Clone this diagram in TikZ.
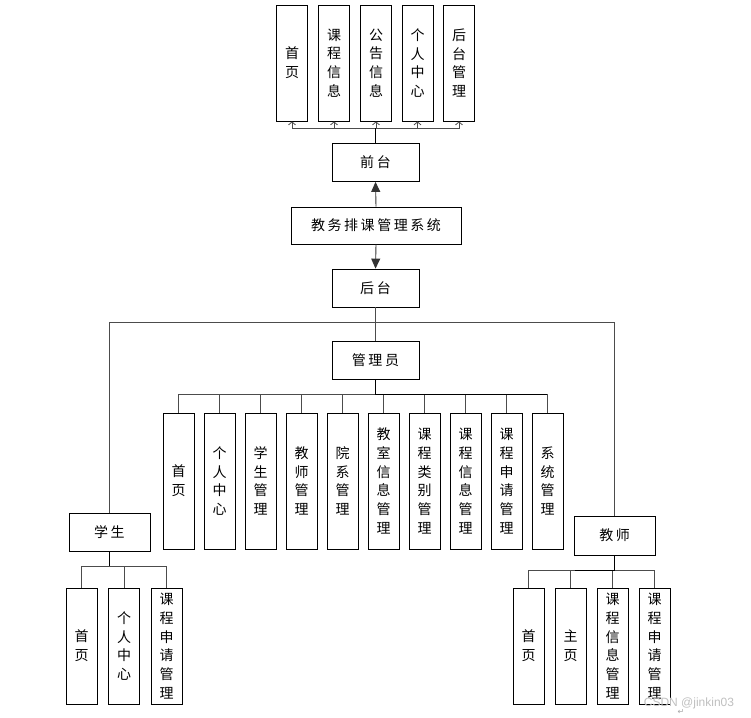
\documentclass[tikz,border=0pt]{standalone}
\usepackage{fontspec}
\newfontfamily\cjk[LetterSpace=18]{Noto Sans CJK SC}
\newfontfamily\wmfont{Liberation Sans}
\newfontfamily\symfont{DejaVu Sans}
\usetikzlibrary{arrows.meta}
\tikzset{
  box/.style={draw=black, line width=0.8pt, fill=white, inner sep=0pt, align=center,
    font=\cjk\fontsize{14}{18.7}\selectfont},
  vbox/.style={box, minimum width=31pt, minimum height=116pt},
  tallbox/.style={box, minimum width=31pt, minimum height=136pt},
  hbox/.style={box, minimum width=87pt, minimum height=38pt},
  conn/.style={draw=black!70, line width=0.9pt},
  stem/.style={draw=black, line width=1.6pt},
  barb/.style={conn, -{Straight Barb[length=3pt,width=7pt,line width=0.8pt]}},
  mainarrow/.style={draw=black!80, line width=0.9pt, -{Triangle[length=10pt,width=9pt]}},
}
\begin{document}
\begin{tikzpicture}[x=1pt,y=-1pt]
\useasboundingbox (0,0) rectangle (751,717);
% top row
\node[vbox] (t1) at (292,63) {首\\页};
\node[vbox] (t2) at (334,63) {课\\程\\信\\息};
\node[vbox] (t3) at (376,63) {公\\告\\信\\息};
\node[vbox] (t4) at (417.5,63) {个\\人\\中\\心};
\node[vbox] (t5) at (459,63) {后\\台\\管\\理};
% main chain
\node[hbox] (qt) at (375.5,162.5) {前台};
\node[box, minimum width=170pt, minimum height=37pt] (sys) at (376,225.5) {教务排课管理系统};
\node[hbox] (ht) at (375.5,288) {后台};
\node[hbox] (gly) at (375.5,360) {管理员};
\node[box, minimum width=81pt, minimum height=38pt] (xs) at (109.5,532) {学生};
\node[box, minimum width=81pt, minimum height=39pt] (js) at (614.5,535.5) {教师};
% admin row
\node[tallbox] (m1) at (178.5,481) {首\\页};
\node[tallbox] (m2) at (219.5,481) {个\\人\\中\\心};
\node[tallbox] (m3) at (260.5,481) {学\\生\\管\\理};
\node[tallbox] (m4) at (301.5,481) {教\\师\\管\\理};
\node[tallbox] (m5) at (342.5,481) {院\\系\\管\\理};
\node[tallbox] (m6) at (383.5,481) {教\\室\\信\\息\\管\\理};
\node[tallbox] (m7) at (424.5,481) {课\\程\\类\\别\\管\\理};
\node[tallbox] (m8) at (465.5,481) {课\\程\\信\\息\\管\\理};
\node[tallbox] (m9) at (506.5,481) {课\\程\\申\\请\\管\\理};
\node[tallbox] (m10) at (547.5,481) {系\\统\\管\\理};
% student row
\node[vbox] (s1) at (81.5,646) {首\\页};
\node[vbox] (s2) at (124,646) {个\\人\\中\\心};
\node[vbox] (s3) at (166.5,646) {课\\程\\申\\请\\管\\理};
% teacher row
\node[vbox] (j1) at (528.5,646) {首\\页};
\node[vbox] (j2) at (570.5,646) {主\\页};
\node[vbox] (j3) at (612.5,646) {课\\程\\信\\息\\管\\理};
\node[vbox] (j4) at (654.5,646) {课\\程\\申\\请\\管\\理};
% connectors: top
\foreach \t in {t1,t2,t3,t4,t5}{
  \draw[barb] (qt.north) -- ++(0,-15) -| (\t.south);
}
\draw[stem] (qt.north) -- ++(0,-15);
\draw[mainarrow] (sys.north) -- (qt.south);
\draw[mainarrow] (sys.south) -- (ht.north);
% 后台 branches
\coordinate (hub) at (375.5,322);
\draw[conn] (ht.south) -- (gly.north);
\draw[conn] (hub) -| (xs.north);
\draw[conn] (hub) -| (js.north);
% admin bus
\foreach \m in {m1,m2,m3,m4,m5,m6,m7,m8,m9,m10}{
  \draw[conn] (gly.south) -- ++(0,15) -| (\m.north);
}
\draw[stem] (gly.south) -- ++(0,15) -- ++(171,0);
% student bus
\foreach \s in {s1,s2,s3}{
  \draw[conn] (xs.south) -- ++(0,15) -| (\s.north);
}
\draw[stem] (xs.south) -- ++(0,15);
% teacher bus
\foreach \j in {j1,j2,j3,j4}{
  \draw[conn] (js.south) -- ++(0,15) -| (\j.north);
}
\draw[stem] (js.south) -- ++(0,15) -- ++(-40,0);
% watermark
\node[text=black!25, font=\wmfont\fontsize{12}{12}\selectfont, anchor=center] (wm) at (689,703) {CSDN @jinkin03};
\node[text=black!35, font=\symfont\fontsize{8}{8}\selectfont] (wm2) at (681,712) {↵};
\end{tikzpicture}
\end{document}
